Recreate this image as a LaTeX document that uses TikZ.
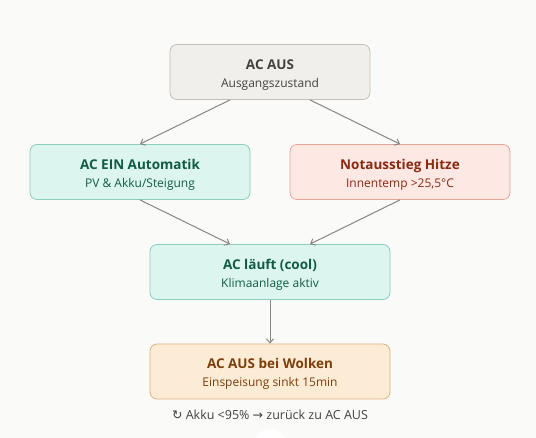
\documentclass[tikz,border=0pt]{standalone}
\usepackage{fontspec}
\setmainfont{Open Sans}
\newfontfamily\symfont{DejaVu Sans}
\usetikzlibrary{arrows.meta}
\definecolor{bgcol}{RGB}{250,250,248}
\definecolor{edgecol}{RGB}{136,134,130}
\definecolor{neutralfill}{RGB}{241,239,235}
\definecolor{neutraldraw}{RGB}{196,192,185}
\definecolor{neutraltext}{RGB}{68,66,62}
\definecolor{greenfill}{RGB}{220,245,238}
\definecolor{greendraw}{RGB}{140,206,188}
\definecolor{greentext}{RGB}{16,92,70}
\definecolor{redfill}{RGB}{253,232,228}
\definecolor{reddraw}{RGB}{232,164,150}
\definecolor{redtext}{RGB}{138,42,16}
\definecolor{orangefill}{RGB}{252,236,214}
\definecolor{orangedraw}{RGB}{222,178,122}
\definecolor{orangetext}{RGB}{124,62,10}
\tikzstyle{state} = [rectangle, rounded corners=7pt, minimum height=55pt, align=center, line width=.8pt, inner sep=0pt]
\tikzstyle{neutral} = [state, fill=neutralfill, draw=neutraldraw, text=neutraltext]
\tikzstyle{green} = [state, fill=greenfill, draw=greendraw, text=greentext]
\tikzstyle{red} = [state, fill=redfill, draw=reddraw, text=redtext]
\tikzstyle{orange} = [state, fill=orangefill, draw=orangedraw, text=orangetext]
\tikzstyle{edge} = [draw=edgecol, line width=1pt, -{Straight Barb[length=4pt,width=7pt]}]
\newcommand{\lbl}[2]{{\fontsize{13.5}{15}\selectfont\bfseries\rule{0pt}{15pt}#1}\\[6pt]{\fontsize{12}{13}\selectfont #2}}

\begin{document}
\begin{tikzpicture}[x=1pt, y=-1pt]
	\fill[bgcol] (0,0) rectangle (536,438);
	\useasboundingbox (0,0) rectangle (536,438);
	% states
	\node [neutral, minimum width=200pt] (aus) at (270,72) {\lbl{AC AUS}{Ausgangszustand}};
	\node [green, minimum width=220pt] (auto) at (140,172) {\lbl{AC EIN Automatik}{PV \& Akku/Steigung}};
	\node [red, minimum width=220pt] (hitze) at (400,172) {\lbl{Notausstieg Hitze}{Innentemp >25,5°C}};
	\node [green, minimum width=240pt] (cool) at (270,272) {\lbl{AC läuft (cool)}{Klimaanlage aktiv}};
	\node [orange, minimum width=240pt] (wolken) at (270,371.5) {\lbl{AC AUS bei Wolken}{Einspeisung sinkt 15min}};
	\node [text=neutraltext, font=\fontsize{12.5}{14}\selectfont] (back) at (270,415) {{\symfont ↻} Akku <95\% {\symfont →} zurück zu AC AUS};
	% transitions
	\draw [edge] ([xshift=-40pt]aus.south) -- (auto.north);
	\draw [edge] ([xshift=40pt]aus.south) -- (hitze.north);
	\draw [edge] (auto.south) -- ([xshift=-40pt]cool.north);
	\draw [edge] (hitze.south) -- ([xshift=40pt]cool.north);
	\draw [edge] (cool) -- (wolken);
	\fill[white] (270,446) circle (17pt);
\end{tikzpicture}
\end{document}
